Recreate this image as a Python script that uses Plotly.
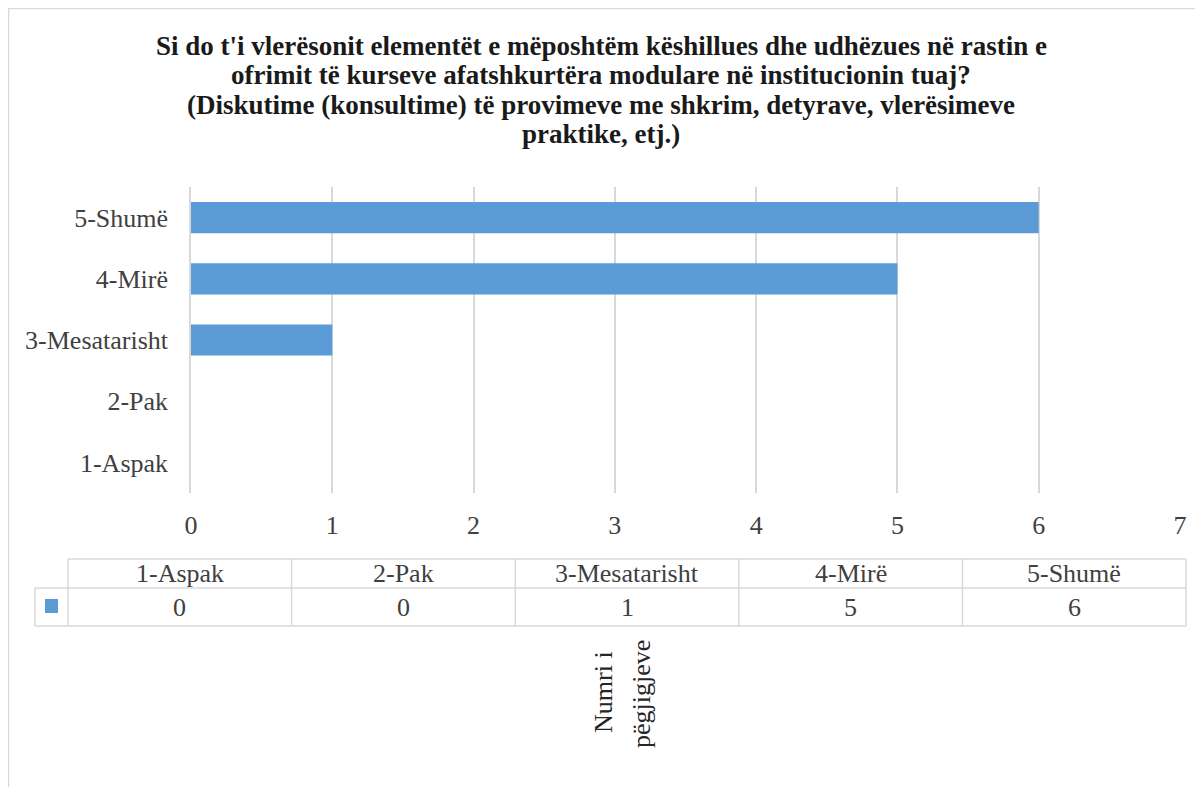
import numpy as np
import plotly.graph_objects as go

categories = ['1-Aspak', '2-Pak', '3-Mesatarisht', '4-Mirë', '5-Shumë']
counts = [0, 0, 1, 5, 6]
x_ticks = [0, 1, 2, 3, 4, 5, 6, 7]

title_lines = [
    "Si do t'i vlerësonit elementët e mëposhtëm këshillues dhe udhëzues në rastin e",
    "ofrimit të kurseve afatshkurtëra modulare në institucionin tuaj?",
    "(Diskutime (konsultime) të provimeve me shkrim, detyrave, vlerësimeve",
    "praktike, etj.)",
]
axis_title = ['Numri i', 'pëgjigjeve']

# page body has an 8px margin, so work in screen pixels and shift back
OFF = 8
W, H = 1203 - OFF, 787 - OFF
L, R, T, B = 191, 1180, 187, 493
BLUE = '#5b9bd5'
GRID = '#d9d9d9'
SERIF = 'Liberation Serif'


def px(x):
    return (x - L) / (R - L)


def py(y):
    return (B - y) / (B - T)


fig = go.Figure(go.Bar(
    x=counts, y=categories, orientation='h',
    marker=dict(color=BLUE, line=dict(width=0)),
    showlegend=False,
))

fig.update_layout(
    width=W, height=H,
    margin=dict(l=L - OFF, r=W + OFF - R, t=T - OFF, b=H + OFF - B, pad=0),
    paper_bgcolor='white', plot_bgcolor='white',
    bargap=0.49,
    font=dict(family=SERIF, size=26, color='#404040'),
)
fig.update_xaxes(range=[0, 7], tickvals=x_ticks, showgrid=True, gridcolor=GRID,
                 gridwidth=1.5, zeroline=False, showline=False,
                 ticklabelstandoff=14, fixedrange=True)
fig.update_yaxes(showline=True, linecolor=GRID, linewidth=1.5, showgrid=False,
                 ticklabelstandoff=16, fixedrange=True)

# data table under the chart
col_edges = np.linspace(68, 1186, len(categories) + 1)
row_top, row_mid, row_bot = 559, 588, 626
key_left = 35
shapes = [
    dict(type='line', x0=px(68), x1=px(1186), y0=py(row_top), y1=py(row_top)),
    dict(type='line', x0=px(key_left), x1=px(1186), y0=py(row_mid), y1=py(row_mid)),
    dict(type='line', x0=px(key_left), x1=px(1186), y0=py(row_bot), y1=py(row_bot)),
    dict(type='line', x0=px(key_left), x1=px(key_left), y0=py(row_mid), y1=py(row_bot)),
]
for e in col_edges:
    shapes.append(dict(type='line', x0=px(e), x1=px(e), y0=py(row_top), y1=py(row_bot)))
for s in shapes:
    s.update(xref='paper', yref='paper', line=dict(color=GRID, width=1.5))
# legend key
shapes.append(dict(type='rect', xref='paper', yref='paper', x0=px(45), x1=px(58),
                   y0=py(613), y1=py(599), fillcolor=BLUE, line=dict(width=0)))
# outer frame
shapes.append(dict(type='rect', xref='paper', yref='paper', x0=px(8.5), x1=px(1215),
                   y0=py(800), y1=py(8.5), line=dict(color=GRID, width=1.5)))
fig.update_layout(shapes=shapes)

# title, one line per annotation to keep the tight line spacing
for k, line in enumerate(title_lines):
    fig.add_annotation(x=px(601), y=py(46 + 29.5 * k), text='<b>' + line + '</b>',
                       font=dict(size=27, color='#1a1a1a'))

for i, (cat, val) in enumerate(zip(categories, counts)):
    cx = (col_edges[i] + col_edges[i + 1]) / 2
    fig.add_annotation(x=px(cx), y=py((row_top + row_mid) / 2), text=cat)
    fig.add_annotation(x=px(cx), y=py((row_mid + row_bot) / 2), text=str(val))

# rotated axis title
fig.add_annotation(x=px(603), y=py(692), text=axis_title[0], textangle=-90,
                   font=dict(size=26, color='#262626'))
fig.add_annotation(x=px(641), y=py(694), text=axis_title[1], textangle=-90,
                   font=dict(size=26, color='#262626'))
fig.update_annotations(xref='paper', yref='paper', showarrow=False,
                       xanchor='center', yanchor='middle')

fig.write_html('out.html')
